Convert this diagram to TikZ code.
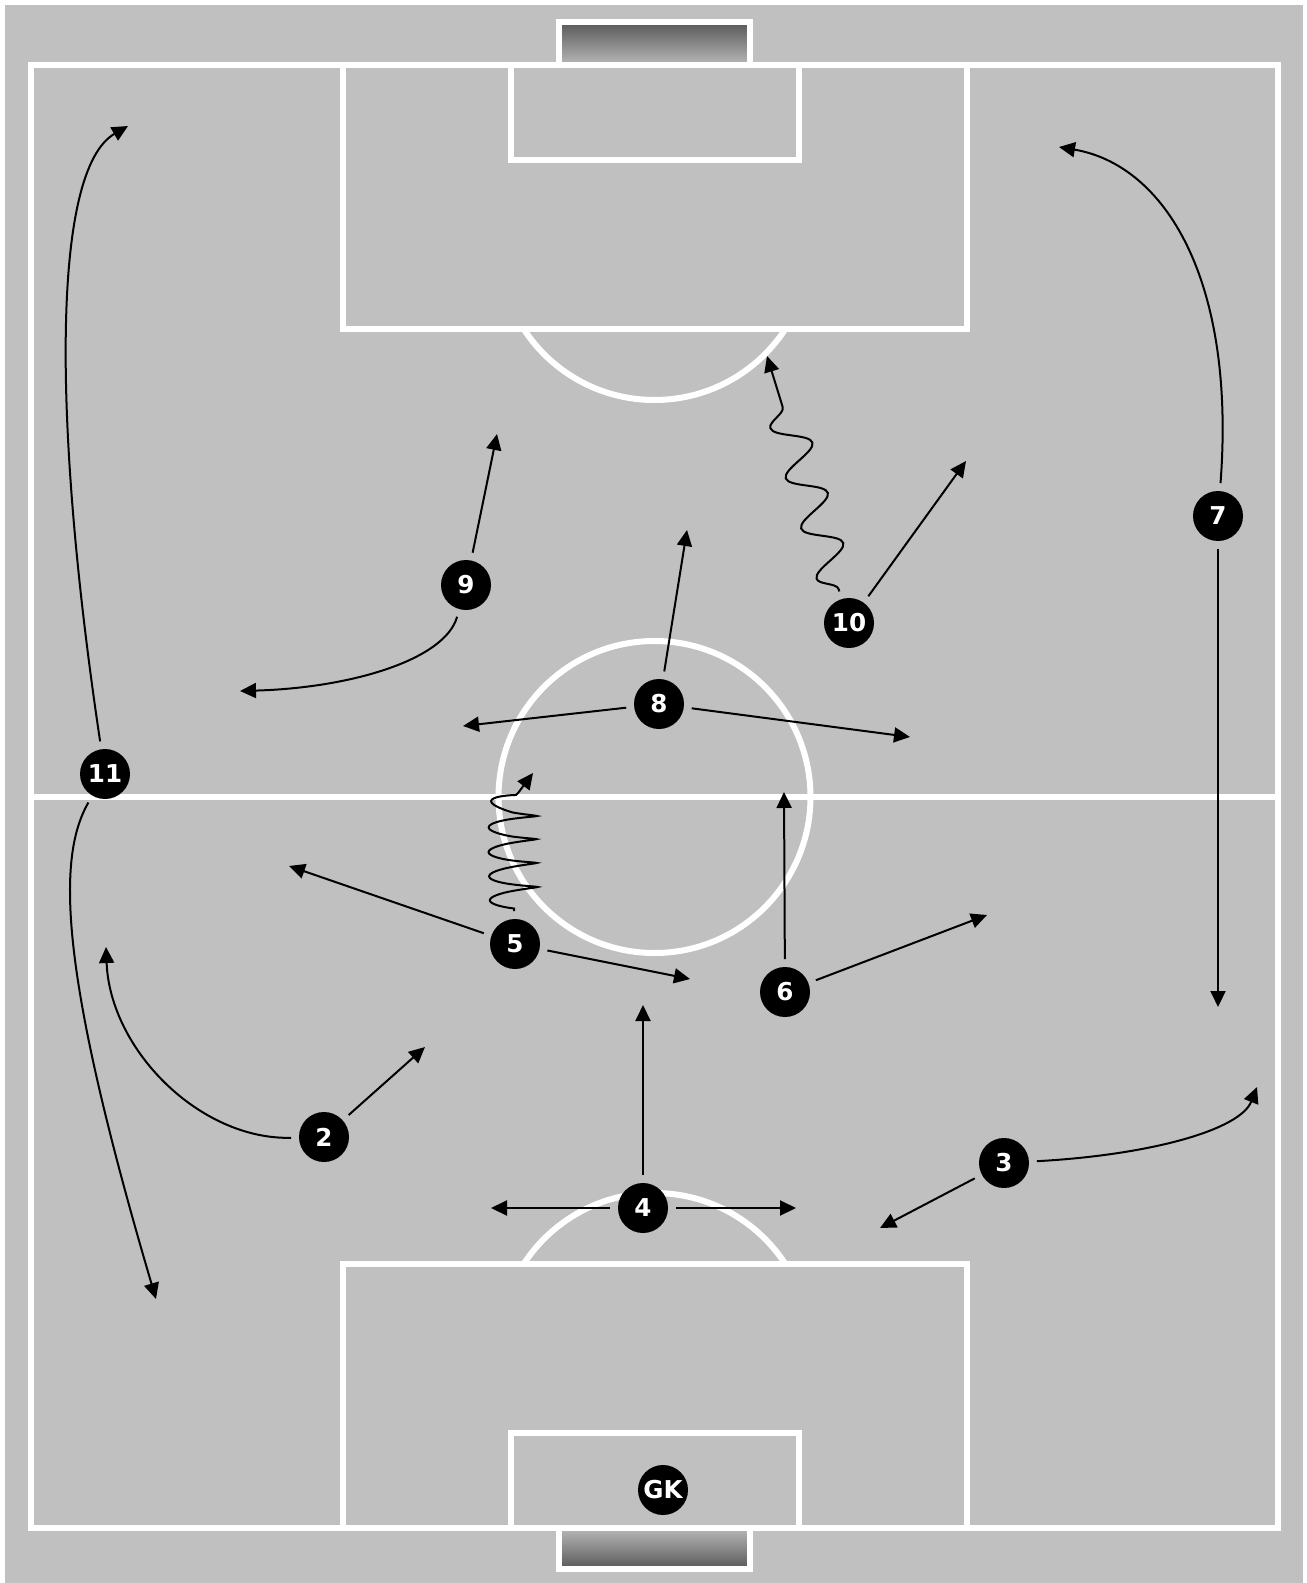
\documentclass[tikz,border=0pt]{standalone}
\usepackage{fontspec}
\setsansfont{DejaVu Sans}
\usepackage{tikz}
\usetikzlibrary{arrows.meta,decorations.pathmorphing,shadings}
\usepackage{xcolor}
\definecolor{pitch}{HTML}{C0C0C0}
\definecolor{netdark}{HTML}{585858}
\definecolor{netlight}{HTML}{B8B8B8}

\tikzset{
  player/.style={circle, fill=black, text=white, minimum size=10mm, inner sep=0pt,
    outer sep=1.6mm, font=\sffamily\bfseries\fontsize{14}{14}\selectfont},
  run/.style={line width=0.4mm, -{Triangle[length=3.2mm,width=3mm]}},
  pitchline/.style={draw=white, line width=1.2mm},
}

\begin{document}
\begin{tikzpicture}[x=0.2mm, y=-0.2mm]
  \useasboundingbox (0,0) rectangle (1307,1583);
  \fill[white] (0,0) rectangle (1307,1583);
  \fill[pitch] (5,5) rectangle (1303,1583);
  % goals
  \draw[pitchline, top color=netdark, bottom color=netlight] (559,22) rectangle (750,65);
  \draw[pitchline, top color=netlight, bottom color=netdark] (559,1528) rectangle (750,1569);
  % markings
  \draw[pitchline] (31,65) rectangle (1278,1528);
  \draw[pitchline] (31,797) -- (1278,797);
  \draw[pitchline] (654.5,797) circle (156);
  \draw[pitchline] (342.5,65) rectangle (966.5,329);
  \draw[pitchline] (510.5,65) rectangle (798.5,160);
  \draw[pitchline] (342.5,1264) rectangle (966.5,1528);
  \draw[pitchline] (510.5,1433) rectangle (798.5,1528);
  \begin{scope}
    \clip (0,329) rectangle (1307,797);
    \draw[pitchline] (654.5,244) circle (156);
  \end{scope}
  \begin{scope}
    \clip (0,797) rectangle (1307,1264);
    \draw[pitchline] (654.5,1349) circle (156);
  \end{scope}

  % players
  \node[player] (p7) at (1218,516) {7};
  \node[player] (p9) at (466,585) {9};
  \node[player] (p10) at (849,623) {10};
  \node[player] (p8) at (659,704) {8};
  \node[player] (p11) at (105,774) {11};
  \node[player] (p5) at (515,944) {5};
  \node[player] (p6) at (785,992) {6};
  \node[player] (p2) at (324,1137) {2};
  \node[player] (p3) at (1004,1163) {3};
  \node[player] (p4) at (643,1208) {4};
  \node[player] (gk) at (663,1490) {GK};

  % runs
  \coordinate (t11a) at (128,126);
  \coordinate (t11b) at (156,1299);
  \coordinate (t9a) at (497,434);
  \coordinate (t9b) at (240,691);
  \coordinate (t10a) at (966,461);
  \coordinate (t10b) at (767,356);
  \coordinate (t8a) at (687,530);
  \coordinate (t8b) at (463,726);
  \coordinate (t8c) at (910,737);
  \coordinate (t5a) at (289,866);
  \coordinate (t5b) at (690,979);
  \coordinate (t5c) at (533,773);
  \coordinate (t6a) at (784,792);
  \coordinate (t6b) at (987,915);
  \coordinate (t7a) at (1059,147);
  \coordinate (t7b) at (1218,1007);
  \coordinate (t2a) at (425,1047);
  \coordinate (t2b) at (106,947);
  \coordinate (t3a) at (880,1228);
  \coordinate (t3b) at (1257,1087);
  \coordinate (t4a) at (643,1005);
  \coordinate (t4b) at (491,1208);
  \coordinate (t4c) at (796,1208);

  \draw[run] (p11) .. controls (52,420) and (52,170) .. (t11a);
  \draw[run] (p11) .. controls (55,860) and (62,980) .. (t11b);
  \draw[run] (p9) -- (t9a);
  \draw[run] (p9) .. controls (445,660) and (350,688) .. (t9b);
  \draw[run] (p10) -- (t10a);
  \draw[run, decorate, decoration={snake, segment length=10.5mm, amplitude=3.6mm,
    pre length=0.5mm, post length=9mm}] (p10) -- (t10b);
  \draw[run] (p8) -- (t8a);
  \draw[run] (p8) -- (t8b);
  \draw[run] (p8) -- (t8c);
  \draw[run] (p5) -- (t5a);
  \draw[run] (p5) -- (t5b);
  \draw[run, decorate, decoration={coil, aspect=0.12, segment length=4.8mm, amplitude=4.8mm,
    pre length=0.5mm, post length=5mm}] (p5) .. controls (512,830) and (508,790) .. (t5c);
  \draw[run] (p6) -- (t6a);
  \draw[run] (p6) -- (t6b);
  \draw[run] (p7) .. controls (1236,280) and (1165,165) .. (t7a);
  \draw[run] (p7) -- (t7b);
  \draw[run] (p2) -- (t2a);
  \draw[run] (p2) .. controls (200,1140) and (110,1050) .. (t2b);
  \draw[run] (p3) -- (t3a);
  \draw[run] (p3) .. controls (1150,1155) and (1240,1130) .. (t3b);
  \draw[run] (p4) -- (t4a);
  \draw[run] (p4) -- (t4b);
  \draw[run] (p4) -- (t4c);
\end{tikzpicture}
\end{document}
